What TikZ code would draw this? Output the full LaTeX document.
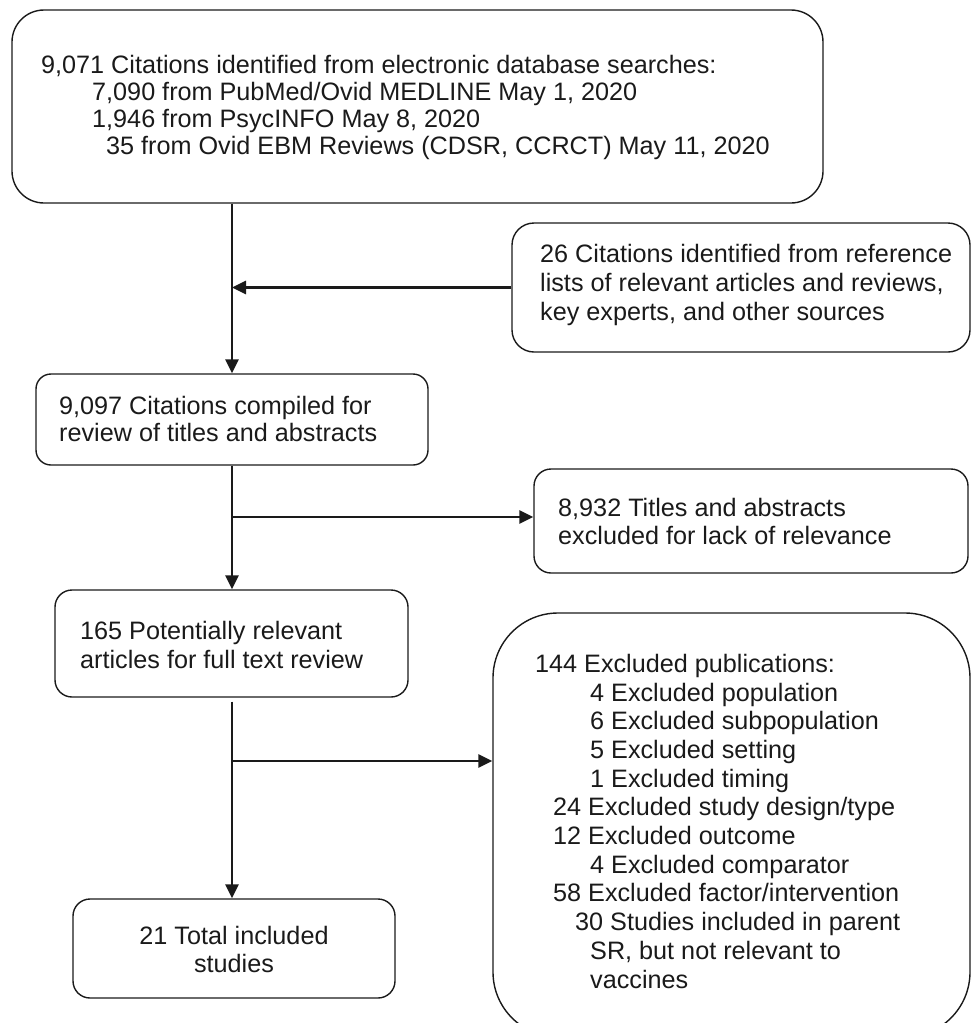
\documentclass[tikz,border=0pt]{standalone}
\usepackage{fontspec}
\setmainfont{Liberation Sans}
\usetikzlibrary{arrows.meta,calc}
\definecolor{ink}{HTML}{1A1A1A}
\begin{document}
\begin{tikzpicture}[x=1bp,y=-1bp,
  box/.style={draw=ink, line width=1.4bp, rounded corners=#1, inner sep=0pt},
  box/.default=17bp,
  txt/.style={font=\fontsize{25.3}{28.5}\selectfont, align=left, inner sep=0pt, anchor=base west, text=ink},
  conn/.style={draw=ink, line width=2.6bp},
  arr/.style={conn, -{Triangle[length=14bp,width=13bp]}}]
\useasboundingbox (0,0) rectangle (971,1023);

% boxes
\node[box=32bp, minimum width=811bp, minimum height=193bp] (b1) at (417.5,106.5) {};
\node[box=22bp, minimum width=458bp, minimum height=129bp] (b26) at (741,287.5) {};
\node[box=15bp, minimum width=392bp, minimum height=91bp] (b2) at (232,419.5) {};
\node[box=17bp, minimum width=434bp, minimum height=104bp] (b8932) at (751,521) {};
\node[box=17bp, minimum width=353bp, minimum height=107bp] (b165) at (231.5,643.5) {};
\node[box=17bp, minimum width=322bp, minimum height=99bp] (b21) at (234,948.5) {};
\node[box=65bp, minimum width=477bp, minimum height=424bp] (b144) at (731.5,825) {};

% texts (anchor = baseline of the last line)
\node[txt, font=\fontsize{25.3}{27}\selectfont] (t1) at (41,154)
  {9,071 Citations identified from electronic database searches:\\
   \hspace*{51bp}7,090 from PubMed/Ovid MEDLINE May 1, 2020\\
   \hspace*{51bp}1,946 from PsycINFO May 8, 2020\\
   \hspace*{65bp}35 from Ovid EBM Reviews (CDSR, CCRCT) May 11, 2020};
\node[txt, font=\fontsize{25.3}{29}\selectfont] (t26) at (540,320)
  {26 Citations identified from reference\\
   lists of relevant articles and reviews,\\
   key experts, and other sources};
\node[txt, font=\fontsize{25.3}{27}\selectfont] (t2) at (59,441)
  {9,097 Citations compiled for\\review of titles and abstracts};
\node[txt, font=\fontsize{25.3}{28}\selectfont] (t8932) at (558,544)
  {8,932 Titles and abstracts\\excluded for lack of relevance};
\node[txt, font=\fontsize{25.3}{29}\selectfont] (t165) at (80,668)
  {165 Potentially relevant\\articles for full text review};
\node[txt, font=\fontsize{25.3}{28}\selectfont, align=center, anchor=base] (t21) at (234,972)
  {21 Total included\\studies};
\node[txt, font=\fontsize{25.3}{28.8}\selectfont] (t144) at (535,988)
  {144 Excluded publications:\\
   \hspace*{55bp}4 Excluded population\\
   \hspace*{55bp}6 Excluded subpopulation\\
   \hspace*{55bp}5 Excluded setting\\
   \hspace*{55bp}1 Excluded timing\\
   \hspace*{18bp}24 Excluded study design/type\\
   \hspace*{18bp}12 Excluded outcome\\
   \hspace*{55bp}4 Excluded comparator\\
   \hspace*{18bp}58 Excluded factor/intervention\\
   \hspace*{40bp}30 Studies included in parent\\
   \hspace*{55bp}SR, but not relevant to\\
   \hspace*{55bp}vaccines};

% connectors
\coordinate (sp) at (232,0);
\coordinate (j1) at (232,517);
\coordinate (j2) at (232,761);
\draw[arr] (b1.south -| sp) -- (b2.north -| sp);
\draw[arr] (b26.west) -- (b26.west -| sp);
\draw[arr] (b2.south -| sp) -- (b165.north -| sp);
\draw[arr] (j1) -- (j1 -| b8932.west);
\draw[arr] ([yshift=-4bp]b165.south -| sp) -- (b21.north -| sp);
\draw[arr] (j2) -- (j2 -| b144.west);
\end{tikzpicture}
\end{document}
